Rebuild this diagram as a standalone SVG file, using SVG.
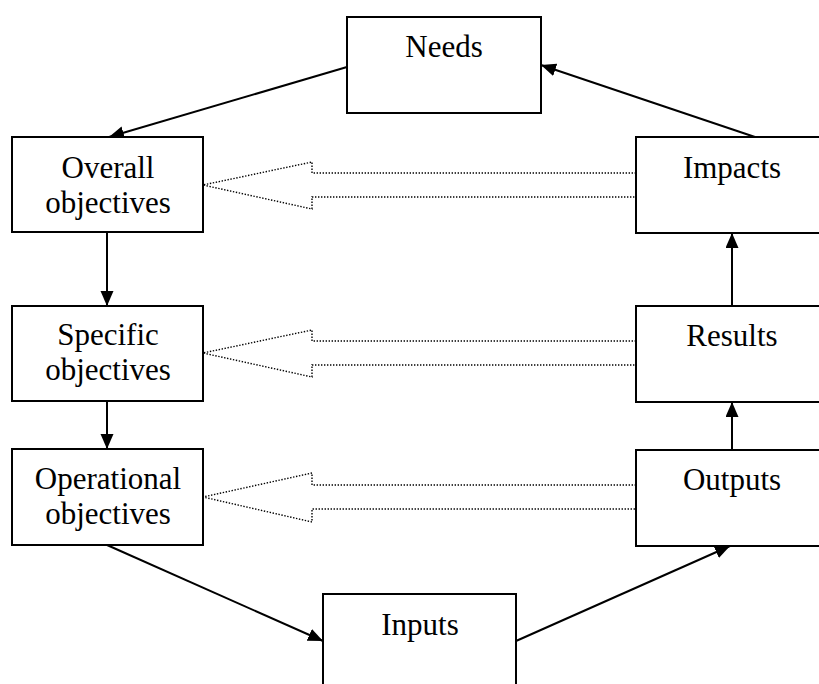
<svg xmlns="http://www.w3.org/2000/svg" width="819" height="684" viewBox="0 0 819 684">
<style>
.box{fill:#fff;stroke:#000;stroke-width:2}
.lbl{font-family:"Liberation Serif","Times New Roman",serif;font-size:31px;fill:#000;text-anchor:middle}
.con{stroke:#000;stroke-width:2;fill:none;marker-end:url(#ah)}
.hol{fill:none;stroke:#000;stroke-width:1.4;stroke-dasharray:1.4 1.6}
</style>
<defs>
<marker id="ah" markerUnits="userSpaceOnUse" markerWidth="16" markerHeight="14" refX="15" refY="6.5" orient="auto">
<path d="M0,0 L15,6.5 L0,13 Z" fill="#000"/>
</marker>
</defs>
<rect width="819" height="684" fill="#fff"/>
<g id="connectors">
<line class="con" x1="755" y1="137" x2="541" y2="65"/>
<line class="con" x1="347" y1="67" x2="109" y2="137"/>
<line class="con" x1="107" y1="232" x2="107" y2="306"/>
<line class="con" x1="107" y1="401" x2="107" y2="449"/>
<line class="con" x1="107" y1="545" x2="323" y2="641"/>
<line class="con" x1="516" y1="641" x2="730" y2="546"/>
<line class="con" x1="732" y1="450" x2="732" y2="402"/>
<line class="con" x1="732" y1="306" x2="732" y2="233"/>
<polygon class="hol" points="636,173 312,173 312,162 203,185 312,209 312,197 636,197"/>
<polygon class="hol" points="636,341 312,341 312,330 203,353 312,377 312,365 636,365"/>
<polygon class="hol" points="636,485 312,485 312,473 203,497 312,522 312,509 636,509"/>
</g>
<g id="needs">
<rect class="box" x="347" y="17" width="194" height="96"/>
<text class="lbl" x="444" y="57">Needs</text>
</g>
<g id="overall">
<rect class="box" x="12" y="137" width="191" height="95"/>
<text class="lbl" x="108" y="178">Overall</text>
<text class="lbl" x="108" y="213">objectives</text>
</g>
<g id="specific">
<rect class="box" x="12" y="306" width="191" height="95"/>
<text class="lbl" x="108" y="345">Specific</text>
<text class="lbl" x="108" y="380">objectives</text>
</g>
<g id="operational">
<rect class="box" x="12" y="449" width="191" height="96"/>
<text class="lbl" x="108" y="489">Operational</text>
<text class="lbl" x="108" y="524">objectives</text>
</g>
<g id="impacts">
<rect class="box" x="636" y="137" width="192" height="96"/>
<text class="lbl" x="732" y="178">Impacts</text>
</g>
<g id="results">
<rect class="box" x="636" y="306" width="192" height="96"/>
<text class="lbl" x="732" y="346">Results</text>
</g>
<g id="outputs">
<rect class="box" x="636" y="450" width="192" height="96"/>
<text class="lbl" x="732" y="490">Outputs</text>
</g>
<g id="inputs">
<rect class="box" x="323" y="594" width="193" height="100"/>
<text class="lbl" x="420" y="635">Inputs</text>
</g>
</svg>
